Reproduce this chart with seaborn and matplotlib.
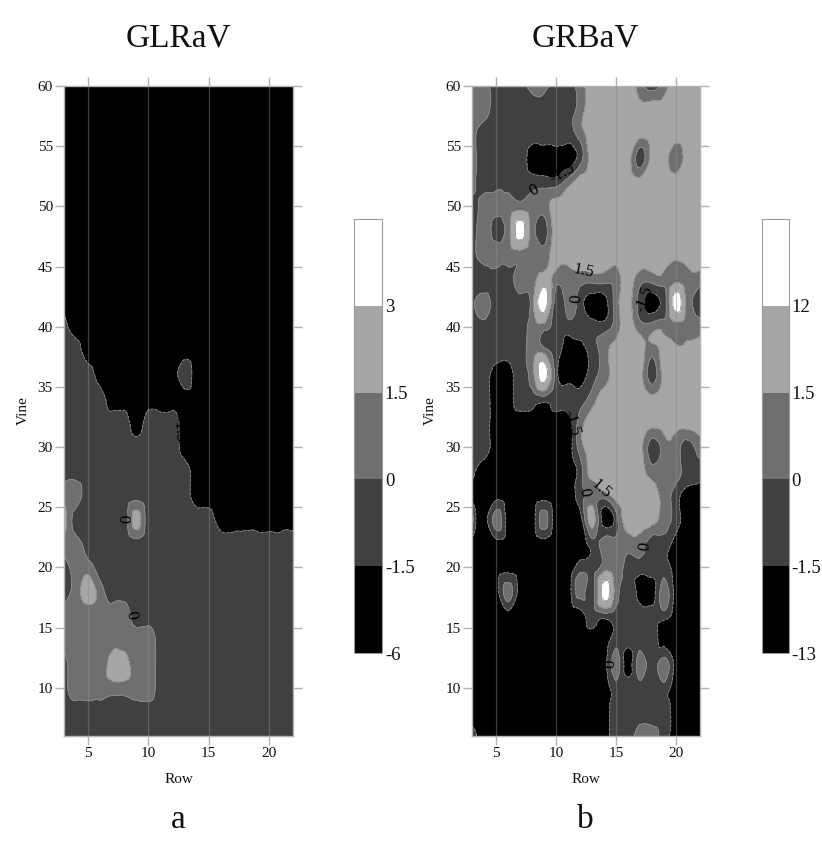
import numpy as np
import matplotlib
matplotlib.use("Agg")
import matplotlib.pyplot as plt
import matplotlib.tri as mtri
import seaborn as sns

# grid of the survey: rows (x) and vines (y, top to bottom)
rows = list(range(3, 23))
vines = list(range(60, 5, -2))

# class at each grid node:
# 0 black, 1 dark grey, 2 mid grey, 3 light grey, 4 white
glrav_codes = [
    "00000000000000000000",  # 60
    "00000000000000000000",
    "00000000000000000000",
    "00000000000000000000",
    "00000000000000000000",
    "00000000000000000000",  # 50
    "00000000000000000000",
    "00000000000000000000",
    "00000000000000000000",
    "00000000000000000000",
    "10000000000000000000",  # 40
    "11000000000000000000",
    "11100000001000000000",
    "11110000000000000000",
    "11111101110000000000",
    "11111111110000000000",  # 30
    "11111111111000000000",
    "22111111111000000000",
    "31111131111110000000",
    "22111111111111111111",
    "12211111111111111111",  # 20
    "12321111111111111111",
    "22222211111111111111",
    "22222222111111111111",
    "12223322111111111111",
    "12222222111111111111",  # 10
    "11111111111111111111",
    "11111111111111111111",
]

grbav_codes = [
    "22111221123333212333",  # 60
    "22111111123333333333",
    "21111111123333333333",
    "21111000013333133233",
    "21111111233333333333",
    "12222223333333333333",  # 50
    "12124213333333333333",
    "12222223333333333333",
    "11112232222223222222",
    "12111241210023101421",
    "11111221111123222222",  # 40
    "11111221001233323333",
    "11001241001233313333",
    "11001111112333333333",
    "11000000023333333333",
    "11000000023333312212",  # 30
    "10000000013333322211",
    "00000000012233332100",
    "20200020003013332100",
    "00000000001222211000",
    "00000000011221111000",  # 20
    "00020000021421002000",
    "00000000001111111000",
    "00000000000011110000",
    "00000000000020212000",
    "00000000000011111000",  # 10
    "00000000000011111000",
    "10000000000011221000",
]

# each class is drawn on an even scale; the colour bars carry the real breaks
class_values = [-2.25, -0.75, 0.75, 2.25, 4.5]
class_levels = [-6, -1.5, 0, 1.5, 3.5, 7]
glrav_breaks = ["-6", "-1.5", "0", "1.5", "3"]
grbav_breaks = ["-13", "-1.5", "0", "1.5", "12"]

# where the contour labels sit
glrav_label_spots = [(12.3, 31.5), (8.3, 24.0), (8.3, 16.0)]
grbav_label_spots = [(10.0, 53.2), (8.3, 51.0), (12.3, 44.5), (11.6, 42.3),
                     (17.3, 42.3), (11.0, 32.0), (12.4, 26.3), (13.8, 26.6),
                     (16.7, 21.7), (14.6, 12.0)]

sns.set_theme(style="ticks")
plt.rcParams["font.family"] = ["Liberation Serif", "DejaVu Serif"]

band_colors = ["#000000", "#404040", "#6f6f6f", "#a6a6a6", "#ffffff"]
edge = "#b2b2b2"


def draw_panel(fig, ax, cax, codes, breaks, spots, title, letter, xc):
    z = np.array([[class_values[int(c)] for c in line] for line in codes])
    X, Y = np.meshgrid(rows, vines)
    triang = mtri.Triangulation(X.ravel(), Y.ravel())
    tri_fine, z_fine = mtri.UniformTriRefiner(triang).refine_field(z.ravel(), subdiv=3)

    filled = ax.tricontourf(tri_fine, z_fine, levels=class_levels, colors=band_colors)
    lines = ax.tricontour(tri_fine, z_fine, levels=class_levels[1:-1], colors="#8c8c8c", linewidths=0.6)
    ax.clabel(lines, levels=[-1.5, 0, 1.5], manual=spots, fmt="%g",
              fontsize=12, colors="black", inline=True, inline_spacing=2)

    ax.set_xlim(3, 22)
    ax.set_ylim(6, 60)
    ax.set_xticks([5, 10, 15, 20])
    ax.set_yticks(range(10, 61, 5))
    ax.set_axisbelow(False)
    ax.xaxis.grid(True, color="#8a8a8a", linewidth=0.9, alpha=0.45)
    ax.yaxis.grid(False)
    for s in ax.spines.values():
        s.set_color(edge)
        s.set_linewidth(1.0)
    ax.tick_params(which="both", direction="out", length=6.5, width=1.0, color=edge,
                   top=True, right=True, labeltop=False, labelright=False,
                   labelsize=11, pad=1.5, labelcolor="#111111")
    ax.set_xlabel("Row", fontsize=11, labelpad=9, color="#111111")
    ax.set_ylabel("Vine", fontsize=11, labelpad=6, color="#111111")

    cb = fig.colorbar(filled, cax=cax, ticks=class_levels[:-1])
    cb.ax.set_yticklabels(breaks)
    cb.ax.tick_params(length=0, labelsize=13.5, pad=2, labelcolor="#111111")
    cb.outline.set_edgecolor("#9a9a9a")
    cb.outline.set_linewidth(0.8)

    fig.text(xc, 0.955, title, ha="center", va="center", fontsize=24, color="#111111")
    fig.text(xc, 0.043, letter, ha="center", va="center", fontsize=24, color="#111111")


fig = plt.figure(figsize=(8.22, 8.57), dpi=100)
ax1 = fig.add_axes([0.0779, 0.1412, 0.2786, 0.7585])
cax1 = fig.add_axes([0.4307, 0.2380, 0.0341, 0.5064])
ax2 = fig.add_axes([0.5742, 0.1412, 0.2774, 0.7585])
cax2 = fig.add_axes([0.9270, 0.2380, 0.0328, 0.5064])

draw_panel(fig, ax1, cax1, glrav_codes, glrav_breaks, glrav_label_spots, "GLRaV", "a", 0.2165)
draw_panel(fig, ax2, cax2, grbav_codes, grbav_breaks, grbav_label_spots, "GRBaV", "b", 0.712)

fig.savefig("out.png", dpi=100)
